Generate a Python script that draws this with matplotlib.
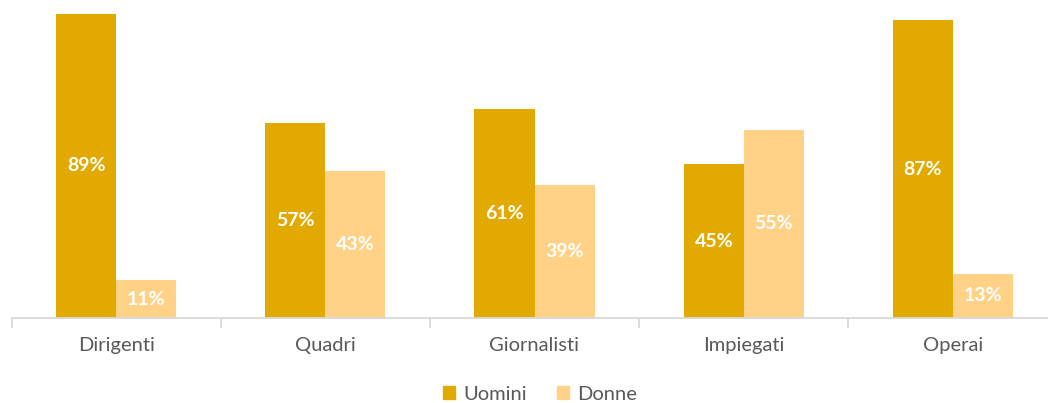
import numpy as np
import matplotlib.pyplot as plt
from matplotlib.patches import Patch

# Dati
categorie = ["Dirigenti", "Quadri", "Giornalisti", "Impiegati", "Operai"]
uomini = [89, 57, 61, 45, 87]
donne = [11, 43, 39, 55, 13]

col_uomini = "#E2AA00"
col_donne = "#FFD287"

W, H = 1048, 403
fig = plt.figure(figsize=(W / 100, H / 100), dpi=100)
plt.rcParams['font.family'] = ['Lato', 'DejaVu Sans']

# assi in pixel: baseline a y=318, area fino al bordo superiore
x0, x1 = 11.5, 1057.5
ax = fig.add_axes([x0 / W, (H - 318) / H, (x1 - x0) / W, 318 / H])

x = np.arange(len(categorie))
larg = 0.287
b1 = ax.bar(x - larg / 2, uomini, larg, color=col_uomini, label="Uomini")
b2 = ax.bar(x + larg / 2, donne, larg, color=col_donne, label="Donne")

for barre, vals in ((b1, uomini), (b2, donne)):
    for b, v in zip(barre, vals):
        ax.text(b.get_x() + b.get_width() / 2, v / 2, f"{v}%", ha="center", va="center",
                color="white", fontsize=14, fontweight="bold")

ax.set_xlim(-0.5, len(categorie) - 0.5)
ax.set_ylim(0, 318 / 3.42)
ax.set_yticks([])
for s in ("top", "right", "left"):
    ax.spines[s].set_visible(False)
ax.spines["bottom"].set_color("#D9D9D9")
ax.spines["bottom"].set_linewidth(1.3)

ax.set_xticks(x)
ax.set_xticklabels(categorie, fontsize=14.5, color="#595959")
ax.tick_params(axis="x", length=0, pad=14)
ax.set_xticks(np.arange(-0.5, len(categorie), 1), minor=True)
ax.tick_params(axis="x", which="minor", length=7, color="#D9D9D9", width=1.3)

handles = [Patch(color=col_uomini, label="Uomini"), Patch(color=col_donne, label="Donne")]
fig.legend(handles=handles, loc="center", bbox_to_anchor=(540 / W, 1 - 394 / H), ncol=2,
           frameon=False, fontsize=14.5, handlelength=0.6, handleheight=0.6,
           handletextpad=0.4, columnspacing=1.5, labelcolor="#595959")

fig.savefig("out.png", dpi=100)
